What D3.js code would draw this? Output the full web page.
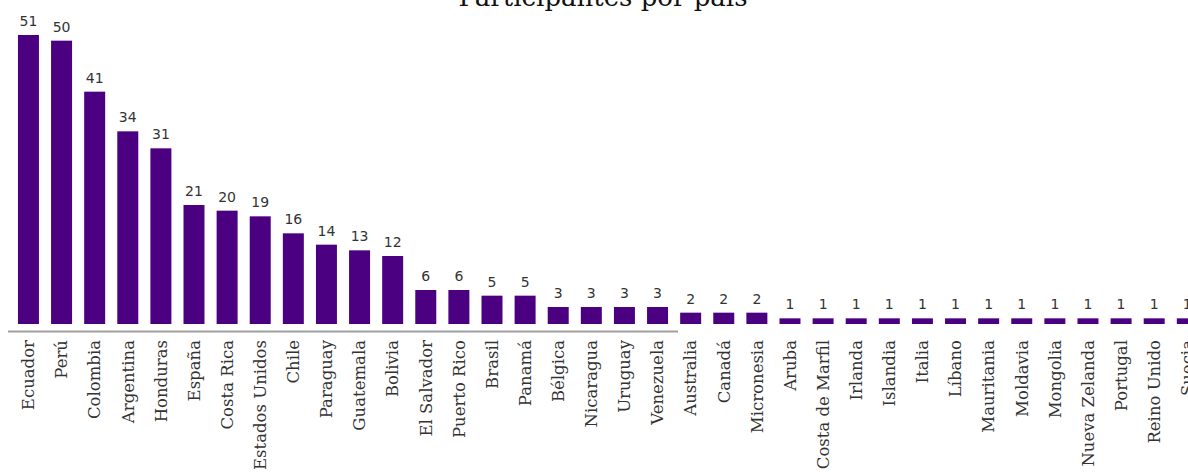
<!DOCTYPE html>
<html>
<head>
<meta charset="utf-8">
<script src="https://cdn.jsdelivr.net/npm/d3@7.9.0/dist/d3.min.js"></script>
<style>
  body { margin: 0; background: #fff; }
  svg { display: block; }
</style>
</head>
<body>
<svg id="chart" width="1188" height="472"></svg>
<script>
// data
const countries = ['Ecuador', 'Perú', 'Colombia', 'Argentina', 'Honduras', 'España', 'Costa Rica',
  'Estados Unidos', 'Chile', 'Paraguay', 'Guatemala', 'Bolivia', 'El Salvador', 'Puerto Rico',
  'Brasil', 'Panamá', 'Bélgica', 'Nicaragua', 'Uruguay', 'Venezuela', 'Australia', 'Canadá',
  'Micronesia', 'Aruba', 'Costa de Marfil', 'Irlanda', 'Islandia', 'Italia', 'Líbano',
  'Mauritania', 'Moldavia', 'Mongolia', 'Nueva Zelanda', 'Portugal', 'Reino Unido', 'Suecia'];
const participants = [51, 50, 41, 34, 31, 21, 20, 19, 16, 14, 13, 12, 6, 6, 5, 5, 3, 3, 3, 3,
  2, 2, 2, 1, 1, 1, 1, 1, 1, 1, 1, 1, 1, 1, 1, 1];

const title = 'Participantes por país';

const svg = d3.select('#chart');
const step = 33.11;
const left = 11.9;
const baseY = 324;

const x = d3.scaleBand()
  .domain(countries)
  .range([left, left + countries.length * step])
  .paddingInner(0.366)
  .paddingOuter(0.183);

const y = d3.scaleLinear()
  .domain([0, d3.max(participants)])
  .range([baseY, 35]);

const data = countries.map((c, i) => ({ country: c, value: participants[i] }));

// title (cut at the top like the original)
svg.append('text')
  .attr('x', 603)
  .attr('y', 6)
  .attr('text-anchor', 'middle')
  .style('font-family', '"DejaVu Serif", serif')
  .style('font-size', '26px')
  .attr('fill', '#111')
  .text(title);

// bars
svg.selectAll('rect.bar')
  .data(data)
  .join('rect')
  .attr('class', 'bar')
  .attr('x', d => x(d.country))
  .attr('y', d => y(d.value))
  .attr('width', x.bandwidth())
  .attr('height', d => baseY - y(d.value))
  .attr('fill', '#4b0082');

// value labels
svg.selectAll('text.val')
  .data(data)
  .join('text')
  .attr('class', 'val')
  .attr('x', d => x(d.country) + x.bandwidth() / 2)
  .attr('y', d => y(d.value) - 9)
  .attr('text-anchor', 'middle')
  .style('font-family', '"DejaVu Sans", sans-serif')
  .style('font-size', '14px')
  .attr('fill', '#333')
  .text(d => d.value);

// baseline (only spans part of the width in the original)
svg.append('line')
  .attr('x1', 8)
  .attr('x2', 678)
  .attr('y1', 331.5)
  .attr('y2', 331.5)
  .attr('stroke', '#a0a0a0')
  .attr('stroke-width', 2);

// category labels
svg.selectAll('text.cat')
  .data(data)
  .join('text')
  .attr('class', 'cat')
  .attr('transform', d => `translate(${x(d.country) + x.bandwidth() / 2},340) rotate(-90)`)
  .attr('dy', '0.35em')
  .attr('text-anchor', 'end')
  .style('font-family', '"DejaVu Serif", serif')
  .style('font-size', '16.5px')
  .attr('fill', '#333')
  .text(d => d.country);
</script>
</body>
</html>
